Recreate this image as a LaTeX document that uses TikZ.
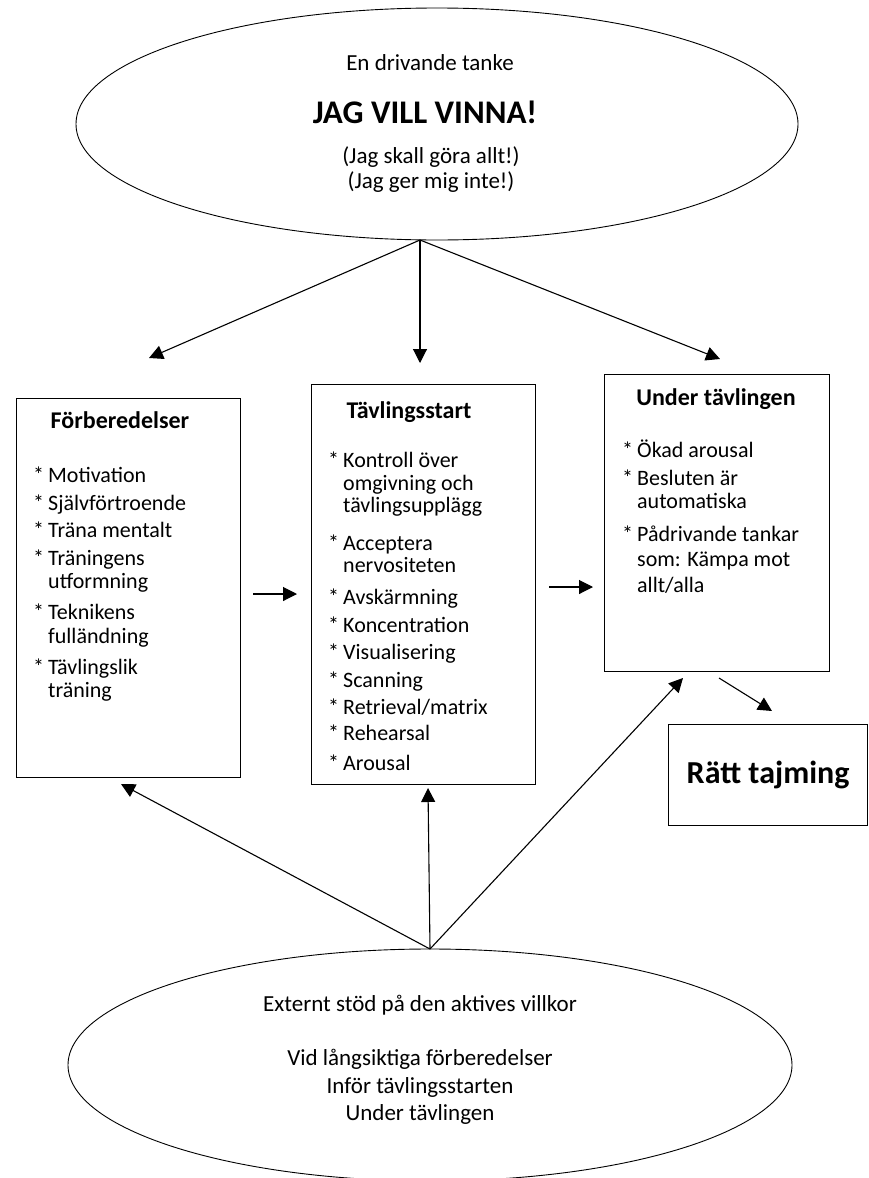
\documentclass[tikz,border=0pt]{standalone}
\usepackage{fontspec}
\setmainfont{Carlito}
\usetikzlibrary{positioning, arrows.meta, shapes.geometric}

\newcommand{\bp}{\makebox[15pt][l]{*}}
\newcommand{\cn}{\hspace*{15pt}}

\begin{document}
\begin{tikzpicture}[
  x=1pt, y=-1pt,
  >={Triangle[length=14pt, width=14pt]},
  bubble/.style={ellipse, draw, line width=0.9pt, inner sep=0pt},
  panel/.style={rectangle, draw, line width=1.2pt, anchor=north west, inner sep=0pt},
  head/.style={inner sep=0pt, font=\fontsize{24}{26}\selectfont\bfseries},
  items/.style={anchor=base west, align=left, inner sep=0pt, font=\fontsize{22}{22.5}\selectfont},
  say/.style={align=center, inner sep=0pt, font=\fontsize{23}{27.5}\selectfont},
  flow/.style={->, line width=1.1pt},
]
\useasboundingbox (0,0) rectangle (869,1178);

% ===== driving thought =====================================================
\node[bubble, minimum width=722pt, minimum height=232pt] (thought) at (437,124) {};
\node[say] (drive) at (430,63) {En drivande tanke};
\node[say, font=\fontsize{33}{36}\selectfont\bfseries] (vinna) at (425,112) {JAG VILL VINNA!};
\node[say, font=\fontsize{23}{25}\selectfont] (selftalk) at (431,170)
  {(Jag skall göra allt!)\\(Jag ger mig inte!)};

% ===== three phases (lists sit on their last line) =========================
\node[panel, minimum width=224pt, minimum height=379pt] (prep) at (16,398) {};
\node[head] (preptitle) at (120,420) {Förberedelser};
\node[items] (preplist) at (33,697)
  {\bp Motivation\\[6pt]
   \bp Självförtroende\\[4pt]
   \bp Träna mentalt\\[6pt]
   \bp Träningens\\
   \cn utformning\\[9pt]
   \bp Teknikens\\[1.5pt]
   \cn fulländning\\[8.5pt]
   \bp Tävlingslik\\
   \cn träning};

\node[panel, minimum width=224pt, minimum height=400pt] (start) at (311,384) {};
\node[head] (starttitle) at (409,412) {Tävlingsstart};
\node[items] (startlist) at (328,770)
  {\bp Kontroll över\\
   \cn omgivning och\\
   \cn tävlingsupplägg\\[15pt]
   \bp Acceptera\\
   \cn nervositeten\\[9pt]
   \bp Avskärmning\\[5.5pt]
   \bp Koncentration\\[4.5pt]
   \bp Visualisering\\[5.5pt]
   \bp Scanning\\[4.5pt]
   \bp Retrieval/matrix\\[3.5pt]
   \bp Rehearsal\\[7.5pt]
   \bp Arousal};

\node[panel, minimum width=225pt, minimum height=297pt] (during) at (604,374) {};
\node[head] (duringtitle) at (716,399) {Under tävlingen};
\node[items] (duringlist) at (622,592)
  {\bp Ökad arousal\\[5.5pt]
   \bp Besluten är\\
   \cn automatiska\\[10.5pt]
   \bp Pådrivande tankar\\[2.5pt]
   \cn som: Kämpa mot\\[3.5pt]
   \cn allt/alla};

\node[panel, minimum width=199pt, minimum height=101pt,
      font=\fontsize{32}{34}\selectfont\bfseries] (timing) at (668,724) {Rätt tajming};

% ===== external support ====================================================
\node[bubble, minimum width=724pt, minimum height=232pt] (support) at (430,1065) {};
\node[say] (supporthead) at (420,1005) {Externt stöd på den aktives villkor};
\node[say] (supportlist) at (420,1087)
  {Vid långsiktiga förberedelser\\Inför tävlingsstarten\\Under tävlingen};

% ===== arrows ==============================================================
\coordinate (topjoin) at (420,240);
\coordinate (prepin) at (149,358);
\coordinate (startin) at (420,363);
\coordinate (duringin) at (720,359);
\draw[flow] (topjoin) -- (prepin);
\draw[flow] (topjoin) -- (startin);
\draw[flow] (topjoin) -- (duringin);

\draw[flow, shorten <=12pt, shorten >=14pt] (prep.east |- 0,594) -- (start.west |- 0,594);
\draw[flow, shorten <=13pt, shorten >=11pt] (start.east |- 0,587) -- (during.west |- 0,587);

\coordinate (duringout) at (719,678);
\coordinate (timingin) at (772,711);
\draw[flow] (duringout) -- (timingin);

\coordinate (botjoin) at (430,949);
\coordinate (prepup) at (121,784);
\coordinate (startup) at (428,788);
\coordinate (duringup) at (683,678);
\draw[flow] (botjoin) -- (prepup);
\draw[flow] (botjoin) -- (startup);
\draw[flow] (botjoin) -- (duringup);

\end{tikzpicture}
\end{document}
